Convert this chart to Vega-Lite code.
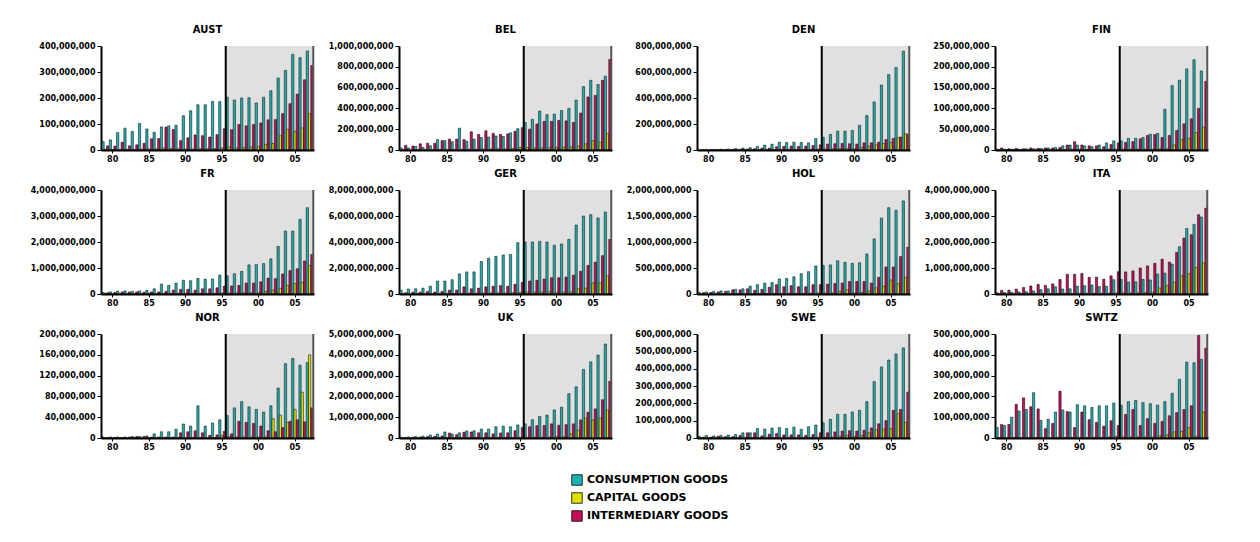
{
"$schema": "https://vega.github.io/schema/vega-lite/v6.json",
"background": "white",
"padding": {"left": 30, "top": 25, "right": 5, "bottom": 5},
"columns": 4,
"spacing": {"row": 6, "column": 13},
"datasets": {"d": [
{"n":"AUST","yr":1979,"c":32e6,"k":2e6,"i":16e6},{"n":"AUST","yr":1980,"c":39e6,"k":2e6,"i":15e6},{"n":"AUST","yr":1981,"c":67e6,"k":2e6,"i":30e6},{"n":"AUST","yr":1982,"c":84e6,"k":3e6,"i":16e6},{"n":"AUST","yr":1983,"c":71e6,"k":2e6,"i":20e6},{"n":"AUST","yr":1984,"c":102e6,"k":3e6,"i":26e6},{"n":"AUST","yr":1985,"c":81e6,"k":4e6,"i":43e6},{"n":"AUST","yr":1986,"c":68e6,"k":5e6,"i":44e6},{"n":"AUST","yr":1987,"c":89e6,"k":8e6,"i":88e6},{"n":"AUST","yr":1988,"c":93e6,"k":6e6,"i":79e6},{"n":"AUST","yr":1989,"c":95e6,"k":5e6,"i":36e6},{"n":"AUST","yr":1990,"c":132e6,"k":4e6,"i":47e6},{"n":"AUST","yr":1991,"c":151e6,"k":4e6,"i":58e6},{"n":"AUST","yr":1992,"c":174e6,"k":5e6,"i":55e6},{"n":"AUST","yr":1993,"c":174e6,"k":5e6,"i":50e6},{"n":"AUST","yr":1994,"c":187e6,"k":6e6,"i":59e6},{"n":"AUST","yr":1995,"c":186e6,"k":8e6,"i":82e6},{"n":"AUST","yr":1996,"c":203e6,"k":12e6,"i":78e6},{"n":"AUST","yr":1997,"c":192e6,"k":8e6,"i":98e6},{"n":"AUST","yr":1998,"c":200e6,"k":9e6,"i":93e6},{"n":"AUST","yr":1999,"c":201e6,"k":12e6,"i":98e6},{"n":"AUST","yr":2000,"c":181e6,"k":14e6,"i":104e6},{"n":"AUST","yr":2001,"c":203e6,"k":22e6,"i":116e6},{"n":"AUST","yr":2002,"c":228e6,"k":25e6,"i":117e6},{"n":"AUST","yr":2003,"c":277e6,"k":55e6,"i":140e6},{"n":"AUST","yr":2004,"c":306e6,"k":80e6,"i":178e6},{"n":"AUST","yr":2005,"c":368e6,"k":72e6,"i":215e6},{"n":"AUST","yr":2006,"c":355e6,"k":85e6,"i":270e6},{"n":"AUST","yr":2007,"c":381e6,"k":140e6,"i":325e6},
{"n":"BEL","yr":1979,"c":20e6,"k":2e6,"i":45e6},{"n":"BEL","yr":1980,"c":20e6,"k":2e6,"i":38e6},{"n":"BEL","yr":1981,"c":35e6,"k":3e6,"i":60e6},{"n":"BEL","yr":1982,"c":25e6,"k":3e6,"i":65e6},{"n":"BEL","yr":1983,"c":40e6,"k":4e6,"i":65e6},{"n":"BEL","yr":1984,"c":100e6,"k":5e6,"i":90e6},{"n":"BEL","yr":1985,"c":90e6,"k":5e6,"i":105e6},{"n":"BEL","yr":1986,"c":80e6,"k":6e6,"i":105e6},{"n":"BEL","yr":1987,"c":210e6,"k":6e6,"i":100e6},{"n":"BEL","yr":1988,"c":85e6,"k":8e6,"i":175e6},{"n":"BEL","yr":1989,"c":105e6,"k":8e6,"i":150e6},{"n":"BEL","yr":1990,"c":120e6,"k":10e6,"i":185e6},{"n":"BEL","yr":1991,"c":125e6,"k":10e6,"i":160e6},{"n":"BEL","yr":1992,"c":135e6,"k":12e6,"i":150e6},{"n":"BEL","yr":1993,"c":130e6,"k":12e6,"i":155e6},{"n":"BEL","yr":1994,"c":165e6,"k":15e6,"i":180e6},{"n":"BEL","yr":1995,"c":205e6,"k":25e6,"i":215e6},{"n":"BEL","yr":1996,"c":265e6,"k":25e6,"i":200e6},{"n":"BEL","yr":1997,"c":295e6,"k":20e6,"i":250e6},{"n":"BEL","yr":1998,"c":375e6,"k":20e6,"i":275e6},{"n":"BEL","yr":1999,"c":340e6,"k":22e6,"i":275e6},{"n":"BEL","yr":2000,"c":345e6,"k":25e6,"i":285e6},{"n":"BEL","yr":2001,"c":380e6,"k":28e6,"i":280e6},{"n":"BEL","yr":2002,"c":400e6,"k":30e6,"i":265e6},{"n":"BEL","yr":2003,"c":480e6,"k":40e6,"i":355e6},{"n":"BEL","yr":2004,"c":610e6,"k":60e6,"i":510e6},{"n":"BEL","yr":2005,"c":670e6,"k":90e6,"i":525e6},{"n":"BEL","yr":2006,"c":630e6,"k":75e6,"i":670e6},{"n":"BEL","yr":2007,"c":710e6,"k":160e6,"i":870e6},
{"n":"DEN","yr":1979,"c":3e6,"k":1e6,"i":2e6},{"n":"DEN","yr":1980,"c":4e6,"k":1e6,"i":3e6},{"n":"DEN","yr":1981,"c":5e6,"k":1e6,"i":3e6},{"n":"DEN","yr":1982,"c":6e6,"k":1e6,"i":4e6},{"n":"DEN","yr":1983,"c":8e6,"k":1e6,"i":5e6},{"n":"DEN","yr":1984,"c":12e6,"k":2e6,"i":6e6},{"n":"DEN","yr":1985,"c":15e6,"k":2e6,"i":8e6},{"n":"DEN","yr":1986,"c":18e6,"k":2e6,"i":10e6},{"n":"DEN","yr":1987,"c":28e6,"k":3e6,"i":15e6},{"n":"DEN","yr":1988,"c":38e6,"k":3e6,"i":15e6},{"n":"DEN","yr":1989,"c":45e6,"k":4e6,"i":25e6},{"n":"DEN","yr":1990,"c":60e6,"k":5e6,"i":28e6},{"n":"DEN","yr":1991,"c":58e6,"k":5e6,"i":30e6},{"n":"DEN","yr":1992,"c":60e6,"k":5e6,"i":28e6},{"n":"DEN","yr":1993,"c":58e6,"k":5e6,"i":30e6},{"n":"DEN","yr":1994,"c":55e6,"k":6e6,"i":35e6},{"n":"DEN","yr":1995,"c":88e6,"k":8e6,"i":40e6},{"n":"DEN","yr":1996,"c":98e6,"k":8e6,"i":45e6},{"n":"DEN","yr":1997,"c":120e6,"k":10e6,"i":48e6},{"n":"DEN","yr":1998,"c":145e6,"k":10e6,"i":50e6},{"n":"DEN","yr":1999,"c":145e6,"k":10e6,"i":48e6},{"n":"DEN","yr":2000,"c":150e6,"k":10e6,"i":45e6},{"n":"DEN","yr":2001,"c":190e6,"k":20e6,"i":55e6},{"n":"DEN","yr":2002,"c":265e6,"k":30e6,"i":55e6},{"n":"DEN","yr":2003,"c":370e6,"k":40e6,"i":60e6},{"n":"DEN","yr":2004,"c":500e6,"k":50e6,"i":80e6},{"n":"DEN","yr":2005,"c":580e6,"k":60e6,"i":90e6},{"n":"DEN","yr":2006,"c":635e6,"k":95e6,"i":100e6},{"n":"DEN","yr":2007,"c":760e6,"k":125e6,"i":120e6},
{"n":"FIN","yr":1979,"c":2e6,"k":1e6,"i":5e6},{"n":"FIN","yr":1980,"c":2e6,"k":1e6,"i":3e6},{"n":"FIN","yr":1981,"c":2e6,"k":1e6,"i":4e6},{"n":"FIN","yr":1982,"c":2e6,"k":1e6,"i":3e6},{"n":"FIN","yr":1983,"c":3e6,"k":1e6,"i":5e6},{"n":"FIN","yr":1984,"c":3e6,"k":1e6,"i":4e6},{"n":"FIN","yr":1985,"c":4e6,"k":1e6,"i":5e6},{"n":"FIN","yr":1986,"c":5e6,"k":1e6,"i":5e6},{"n":"FIN","yr":1987,"c":6e6,"k":1e6,"i":6e6},{"n":"FIN","yr":1988,"c":10e6,"k":1e6,"i":12e6},{"n":"FIN","yr":1989,"c":12e6,"k":2e6,"i":20e6},{"n":"FIN","yr":1990,"c":12e6,"k":2e6,"i":12e6},{"n":"FIN","yr":1991,"c":10e6,"k":1e6,"i":10e6},{"n":"FIN","yr":1992,"c":8e6,"k":1e6,"i":10e6},{"n":"FIN","yr":1993,"c":12e6,"k":1e6,"i":8e6},{"n":"FIN","yr":1994,"c":17e6,"k":2e6,"i":13e6},{"n":"FIN","yr":1995,"c":22e6,"k":2e6,"i":17e6},{"n":"FIN","yr":1996,"c":22e6,"k":2e6,"i":18e6},{"n":"FIN","yr":1997,"c":28e6,"k":2e6,"i":20e6},{"n":"FIN","yr":1998,"c":28e6,"k":2e6,"i":27e6},{"n":"FIN","yr":1999,"c":30e6,"k":2e6,"i":35e6},{"n":"FIN","yr":2000,"c":38e6,"k":2e6,"i":37e6},{"n":"FIN","yr":2001,"c":40e6,"k":3e6,"i":30e6},{"n":"FIN","yr":2002,"c":98e6,"k":3e6,"i":35e6},{"n":"FIN","yr":2003,"c":155e6,"k":12e6,"i":47e6},{"n":"FIN","yr":2004,"c":168e6,"k":25e6,"i":63e6},{"n":"FIN","yr":2005,"c":195e6,"k":28e6,"i":75e6},{"n":"FIN","yr":2006,"c":217e6,"k":42e6,"i":100e6},{"n":"FIN","yr":2007,"c":190e6,"k":55e6,"i":165e6},
{"n":"FR","yr":1979,"c":60e6,"k":10e6,"i":50e6},{"n":"FR","yr":1980,"c":80e6,"k":10e6,"i":60e6},{"n":"FR","yr":1981,"c":110e6,"k":15e6,"i":80e6},{"n":"FR","yr":1982,"c":120e6,"k":15e6,"i":80e6},{"n":"FR","yr":1983,"c":100e6,"k":15e6,"i":80e6},{"n":"FR","yr":1984,"c":120e6,"k":20e6,"i":70e6},{"n":"FR","yr":1985,"c":140e6,"k":20e6,"i":80e6},{"n":"FR","yr":1986,"c":200e6,"k":20e6,"i":80e6},{"n":"FR","yr":1987,"c":380e6,"k":25e6,"i":100e6},{"n":"FR","yr":1988,"c":330e6,"k":25e6,"i":150e6},{"n":"FR","yr":1989,"c":420e6,"k":30e6,"i":180e6},{"n":"FR","yr":1990,"c":530e6,"k":30e6,"i":180e6},{"n":"FR","yr":1991,"c":510e6,"k":30e6,"i":150e6},{"n":"FR","yr":1992,"c":600e6,"k":30e6,"i":200e6},{"n":"FR","yr":1993,"c":570e6,"k":30e6,"i":200e6},{"n":"FR","yr":1994,"c":580e6,"k":30e6,"i":240e6},{"n":"FR","yr":1995,"c":730e6,"k":40e6,"i":300e6},{"n":"FR","yr":1996,"c":700e6,"k":40e6,"i":310e6},{"n":"FR","yr":1997,"c":780e6,"k":40e6,"i":330e6},{"n":"FR","yr":1998,"c":870e6,"k":50e6,"i":420e6},{"n":"FR","yr":1999,"c":1120e6,"k":50e6,"i":420e6},{"n":"FR","yr":2000,"c":1130e6,"k":50e6,"i":470e6},{"n":"FR","yr":2001,"c":1170e6,"k":100e6,"i":610e6},{"n":"FR","yr":2002,"c":1350e6,"k":150e6,"i":590e6},{"n":"FR","yr":2003,"c":1830e6,"k":220e6,"i":770e6},{"n":"FR","yr":2004,"c":2420e6,"k":330e6,"i":900e6},{"n":"FR","yr":2005,"c":2420e6,"k":400e6,"i":970e6},{"n":"FR","yr":2006,"c":2870e6,"k":450e6,"i":1270e6},{"n":"FR","yr":2007,"c":3320e6,"k":1100e6,"i":1520e6},
{"n":"GER","yr":1979,"c":300e6,"k":30e6,"i":100e6},{"n":"GER","yr":1980,"c":380e6,"k":30e6,"i":150e6},{"n":"GER","yr":1981,"c":400e6,"k":30e6,"i":150e6},{"n":"GER","yr":1982,"c":450e6,"k":40e6,"i":200e6},{"n":"GER","yr":1983,"c":600e6,"k":40e6,"i":150e6},{"n":"GER","yr":1984,"c":1000e6,"k":50e6,"i":200e6},{"n":"GER","yr":1985,"c":1000e6,"k":50e6,"i":300e6},{"n":"GER","yr":1986,"c":1100e6,"k":50e6,"i":300e6},{"n":"GER","yr":1987,"c":1550e6,"k":60e6,"i":550e6},{"n":"GER","yr":1988,"c":1700e6,"k":60e6,"i":400e6},{"n":"GER","yr":1989,"c":1700e6,"k":60e6,"i":450e6},{"n":"GER","yr":1990,"c":2500e6,"k":80e6,"i":550e6},{"n":"GER","yr":1991,"c":2750e6,"k":80e6,"i":600e6},{"n":"GER","yr":1992,"c":2900e6,"k":80e6,"i":650e6},{"n":"GER","yr":1993,"c":3000e6,"k":90e6,"i":600e6},{"n":"GER","yr":1994,"c":3050e6,"k":100e6,"i":750e6},{"n":"GER","yr":1995,"c":3950e6,"k":120e6,"i":900e6},{"n":"GER","yr":1996,"c":4000e6,"k":150e6,"i":1000e6},{"n":"GER","yr":1997,"c":4000e6,"k":150e6,"i":1050e6},{"n":"GER","yr":1998,"c":4050e6,"k":150e6,"i":1150e6},{"n":"GER","yr":1999,"c":4000e6,"k":200e6,"i":1250e6},{"n":"GER","yr":2000,"c":3750e6,"k":100e6,"i":1250e6},{"n":"GER","yr":2001,"c":3850e6,"k":150e6,"i":1300e6},{"n":"GER","yr":2002,"c":4200e6,"k":150e6,"i":1450e6},{"n":"GER","yr":2003,"c":5300e6,"k":400e6,"i":1750e6},{"n":"GER","yr":2004,"c":6000e6,"k":450e6,"i":2200e6},{"n":"GER","yr":2005,"c":6100e6,"k":850e6,"i":2450e6},{"n":"GER","yr":2006,"c":5850e6,"k":850e6,"i":2950e6},{"n":"GER","yr":2007,"c":6300e6,"k":1400e6,"i":4200e6},
{"n":"HOL","yr":1979,"c":35e6,"k":3e6,"i":25e6},{"n":"HOL","yr":1980,"c":40e6,"k":3e6,"i":30e6},{"n":"HOL","yr":1981,"c":50e6,"k":4e6,"i":40e6},{"n":"HOL","yr":1982,"c":60e6,"k":4e6,"i":50e6},{"n":"HOL","yr":1983,"c":60e6,"k":5e6,"i":80e6},{"n":"HOL","yr":1984,"c":90e6,"k":5e6,"i":80e6},{"n":"HOL","yr":1985,"c":100e6,"k":6e6,"i":100e6},{"n":"HOL","yr":1986,"c":150e6,"k":8e6,"i":70e6},{"n":"HOL","yr":1987,"c":180e6,"k":10e6,"i":90e6},{"n":"HOL","yr":1988,"c":210e6,"k":10e6,"i":130e6},{"n":"HOL","yr":1989,"c":220e6,"k":10e6,"i":180e6},{"n":"HOL","yr":1990,"c":290e6,"k":12e6,"i":140e6},{"n":"HOL","yr":1991,"c":300e6,"k":12e6,"i":160e6},{"n":"HOL","yr":1992,"c":330e6,"k":15e6,"i":140e6},{"n":"HOL","yr":1993,"c":390e6,"k":15e6,"i":140e6},{"n":"HOL","yr":1994,"c":430e6,"k":15e6,"i":180e6},{"n":"HOL","yr":1995,"c":540e6,"k":20e6,"i":180e6},{"n":"HOL","yr":1996,"c":550e6,"k":20e6,"i":190e6},{"n":"HOL","yr":1997,"c":560e6,"k":20e6,"i":200e6},{"n":"HOL","yr":1998,"c":640e6,"k":50e6,"i":210e6},{"n":"HOL","yr":1999,"c":610e6,"k":80e6,"i":240e6},{"n":"HOL","yr":2000,"c":590e6,"k":20e6,"i":240e6},{"n":"HOL","yr":2001,"c":600e6,"k":30e6,"i":240e6},{"n":"HOL","yr":2002,"c":770e6,"k":60e6,"i":210e6},{"n":"HOL","yr":2003,"c":1060e6,"k":120e6,"i":320e6},{"n":"HOL","yr":2004,"c":1460e6,"k":150e6,"i":520e6},{"n":"HOL","yr":2005,"c":1660e6,"k":270e6,"i":520e6},{"n":"HOL","yr":2006,"c":1610e6,"k":200e6,"i":720e6},{"n":"HOL","yr":2007,"c":1790e6,"k":320e6,"i":900e6},
{"n":"ITA","yr":1979,"c":50e6,"k":10e6,"i":140e6},{"n":"ITA","yr":1980,"c":60e6,"k":10e6,"i":150e6},{"n":"ITA","yr":1981,"c":70e6,"k":10e6,"i":190e6},{"n":"ITA","yr":1982,"c":80e6,"k":15e6,"i":250e6},{"n":"ITA","yr":1983,"c":90e6,"k":15e6,"i":310e6},{"n":"ITA","yr":1984,"c":120e6,"k":15e6,"i":370e6},{"n":"ITA","yr":1985,"c":170e6,"k":20e6,"i":330e6},{"n":"ITA","yr":1986,"c":200e6,"k":20e6,"i":390e6},{"n":"ITA","yr":1987,"c":280e6,"k":25e6,"i":560e6},{"n":"ITA","yr":1988,"c":190e6,"k":25e6,"i":760e6},{"n":"ITA","yr":1989,"c":200e6,"k":25e6,"i":760e6},{"n":"ITA","yr":1990,"c":300e6,"k":30e6,"i":790e6},{"n":"ITA","yr":1991,"c":320e6,"k":30e6,"i":640e6},{"n":"ITA","yr":1992,"c":350e6,"k":30e6,"i":650e6},{"n":"ITA","yr":1993,"c":290e6,"k":30e6,"i":570e6},{"n":"ITA","yr":1994,"c":300e6,"k":30e6,"i":700e6},{"n":"ITA","yr":1995,"c":550e6,"k":40e6,"i":860e6},{"n":"ITA","yr":1996,"c":560e6,"k":40e6,"i":850e6},{"n":"ITA","yr":1997,"c":460e6,"k":40e6,"i":890e6},{"n":"ITA","yr":1998,"c":470e6,"k":40e6,"i":1000e6},{"n":"ITA","yr":1999,"c":560e6,"k":60e6,"i":1080e6},{"n":"ITA","yr":2000,"c":540e6,"k":80e6,"i":1180e6},{"n":"ITA","yr":2001,"c":770e6,"k":230e6,"i":1340e6},{"n":"ITA","yr":2002,"c":800e6,"k":330e6,"i":1230e6},{"n":"ITA","yr":2003,"c":1150e6,"k":450e6,"i":1600e6},{"n":"ITA","yr":2004,"c":1820e6,"k":700e6,"i":2150e6},{"n":"ITA","yr":2005,"c":2520e6,"k":780e6,"i":2280e6},{"n":"ITA","yr":2006,"c":2680e6,"k":1020e6,"i":3050e6},{"n":"ITA","yr":2007,"c":2960e6,"k":1200e6,"i":3300e6},
{"n":"NOR","yr":1979,"c":2e6,"k":0.5e6,"i":1e6},{"n":"NOR","yr":1980,"c":2e6,"k":0.5e6,"i":1e6},{"n":"NOR","yr":1981,"c":2e6,"k":0.5e6,"i":1e6},{"n":"NOR","yr":1982,"c":2e6,"k":0.5e6,"i":2e6},{"n":"NOR","yr":1983,"c":3e6,"k":0.5e6,"i":3e6},{"n":"NOR","yr":1984,"c":3e6,"k":0.5e6,"i":3e6},{"n":"NOR","yr":1985,"c":4e6,"k":0.5e6,"i":2e6},{"n":"NOR","yr":1986,"c":8e6,"k":0.5e6,"i":2e6},{"n":"NOR","yr":1987,"c":12e6,"k":0.5e6,"i":2e6},{"n":"NOR","yr":1988,"c":12e6,"k":0.5e6,"i":2e6},{"n":"NOR","yr":1989,"c":17e6,"k":1e6,"i":10e6},{"n":"NOR","yr":1990,"c":27e6,"k":1e6,"i":12e6},{"n":"NOR","yr":1991,"c":23e6,"k":1e6,"i":14e6},{"n":"NOR","yr":1992,"c":62e6,"k":1e6,"i":10e6},{"n":"NOR","yr":1993,"c":23e6,"k":1e6,"i":5e6},{"n":"NOR","yr":1994,"c":29e6,"k":1e6,"i":6e6},{"n":"NOR","yr":1995,"c":35e6,"k":5e6,"i":13e6},{"n":"NOR","yr":1996,"c":43e6,"k":3e6,"i":8e6},{"n":"NOR","yr":1997,"c":58e6,"k":2e6,"i":32e6},{"n":"NOR","yr":1998,"c":70e6,"k":2e6,"i":30e6},{"n":"NOR","yr":1999,"c":60e6,"k":2e6,"i":28e6},{"n":"NOR","yr":2000,"c":55e6,"k":2e6,"i":23e6},{"n":"NOR","yr":2001,"c":50e6,"k":2e6,"i":14e6},{"n":"NOR","yr":2002,"c":62e6,"k":37e6,"i":12e6},{"n":"NOR","yr":2003,"c":96e6,"k":44e6,"i":20e6},{"n":"NOR","yr":2004,"c":143e6,"k":30e6,"i":32e6},{"n":"NOR","yr":2005,"c":153e6,"k":55e6,"i":35e6},{"n":"NOR","yr":2006,"c":140e6,"k":88e6,"i":31e6},{"n":"NOR","yr":2007,"c":145e6,"k":160e6,"i":58e6},
{"n":"UK","yr":1979,"c":40e6,"k":5e6,"i":30e6},{"n":"UK","yr":1980,"c":50e6,"k":5e6,"i":40e6},{"n":"UK","yr":1981,"c":70e6,"k":5e6,"i":50e6},{"n":"UK","yr":1982,"c":90e6,"k":10e6,"i":70e6},{"n":"UK","yr":1983,"c":140e6,"k":10e6,"i":80e6},{"n":"UK","yr":1984,"c":190e6,"k":10e6,"i":100e6},{"n":"UK","yr":1985,"c":290e6,"k":15e6,"i":240e6},{"n":"UK","yr":1986,"c":190e6,"k":15e6,"i":160e6},{"n":"UK","yr":1987,"c":250e6,"k":15e6,"i":280e6},{"n":"UK","yr":1988,"c":340e6,"k":20e6,"i":290e6},{"n":"UK","yr":1989,"c":350e6,"k":20e6,"i":250e6},{"n":"UK","yr":1990,"c":430e6,"k":20e6,"i":250e6},{"n":"UK","yr":1991,"c":430e6,"k":20e6,"i":200e6},{"n":"UK","yr":1992,"c":540e6,"k":25e6,"i":240e6},{"n":"UK","yr":1993,"c":570e6,"k":25e6,"i":250e6},{"n":"UK","yr":1994,"c":540e6,"k":25e6,"i":350e6},{"n":"UK","yr":1995,"c":630e6,"k":30e6,"i":510e6},{"n":"UK","yr":1996,"c":680e6,"k":30e6,"i":540e6},{"n":"UK","yr":1997,"c":880e6,"k":30e6,"i":590e6},{"n":"UK","yr":1998,"c":1040e6,"k":40e6,"i":600e6},{"n":"UK","yr":1999,"c":1100e6,"k":40e6,"i":680e6},{"n":"UK","yr":2000,"c":1350e6,"k":80e6,"i":610e6},{"n":"UK","yr":2001,"c":1480e6,"k":60e6,"i":640e6},{"n":"UK","yr":2002,"c":2130e6,"k":200e6,"i":680e6},{"n":"UK","yr":2003,"c":2460e6,"k":380e6,"i":870e6},{"n":"UK","yr":2004,"c":3290e6,"k":960e6,"i":1240e6},{"n":"UK","yr":2005,"c":3660e6,"k":870e6,"i":1400e6},{"n":"UK","yr":2006,"c":3990e6,"k":960e6,"i":1840e6},{"n":"UK","yr":2007,"c":4520e6,"k":1350e6,"i":2730e6},
{"n":"SWE","yr":1979,"c":10e6,"k":1e6,"i":5e6},{"n":"SWE","yr":1980,"c":15e6,"k":1e6,"i":5e6},{"n":"SWE","yr":1981,"c":12e6,"k":1e6,"i":10e6},{"n":"SWE","yr":1982,"c":15e6,"k":1e6,"i":8e6},{"n":"SWE","yr":1983,"c":17e6,"k":1e6,"i":8e6},{"n":"SWE","yr":1984,"c":20e6,"k":1e6,"i":15e6},{"n":"SWE","yr":1985,"c":30e6,"k":2e6,"i":30e6},{"n":"SWE","yr":1986,"c":30e6,"k":2e6,"i":30e6},{"n":"SWE","yr":1987,"c":55e6,"k":2e6,"i":12e6},{"n":"SWE","yr":1988,"c":52e6,"k":2e6,"i":22e6},{"n":"SWE","yr":1989,"c":57e6,"k":2e6,"i":25e6},{"n":"SWE","yr":1990,"c":60e6,"k":3e6,"i":18e6},{"n":"SWE","yr":1991,"c":55e6,"k":3e6,"i":18e6},{"n":"SWE","yr":1992,"c":63e6,"k":3e6,"i":18e6},{"n":"SWE","yr":1993,"c":50e6,"k":3e6,"i":15e6},{"n":"SWE","yr":1994,"c":65e6,"k":3e6,"i":20e6},{"n":"SWE","yr":1995,"c":75e6,"k":5e6,"i":30e6},{"n":"SWE","yr":1996,"c":88e6,"k":5e6,"i":30e6},{"n":"SWE","yr":1997,"c":108e6,"k":5e6,"i":35e6},{"n":"SWE","yr":1998,"c":137e6,"k":10e6,"i":40e6},{"n":"SWE","yr":1999,"c":137e6,"k":15e6,"i":42e6},{"n":"SWE","yr":2000,"c":150e6,"k":10e6,"i":40e6},{"n":"SWE","yr":2001,"c":160e6,"k":15e6,"i":45e6},{"n":"SWE","yr":2002,"c":210e6,"k":30e6,"i":58e6},{"n":"SWE","yr":2003,"c":325e6,"k":48e6,"i":82e6},{"n":"SWE","yr":2004,"c":410e6,"k":52e6,"i":100e6},{"n":"SWE","yr":2005,"c":450e6,"k":55e6,"i":160e6},{"n":"SWE","yr":2006,"c":485e6,"k":140e6,"i":165e6},{"n":"SWE","yr":2007,"c":520e6,"k":90e6,"i":265e6},
{"n":"SWTZ","yr":1979,"c":50e6,"k":2e6,"i":65e6},{"n":"SWTZ","yr":1980,"c":60e6,"k":2e6,"i":65e6},{"n":"SWTZ","yr":1981,"c":100e6,"k":2e6,"i":162e6},{"n":"SWTZ","yr":1982,"c":130e6,"k":2e6,"i":193e6},{"n":"SWTZ","yr":1983,"c":137e6,"k":2e6,"i":150e6},{"n":"SWTZ","yr":1984,"c":218e6,"k":2e6,"i":140e6},{"n":"SWTZ","yr":1985,"c":85e6,"k":2e6,"i":45e6},{"n":"SWTZ","yr":1986,"c":90e6,"k":2e6,"i":70e6},{"n":"SWTZ","yr":1987,"c":125e6,"k":3e6,"i":225e6},{"n":"SWTZ","yr":1988,"c":135e6,"k":3e6,"i":127e6},{"n":"SWTZ","yr":1989,"c":125e6,"k":3e6,"i":50e6},{"n":"SWTZ","yr":1990,"c":160e6,"k":3e6,"i":125e6},{"n":"SWTZ","yr":1991,"c":155e6,"k":3e6,"i":88e6},{"n":"SWTZ","yr":1992,"c":147e6,"k":3e6,"i":75e6},{"n":"SWTZ","yr":1993,"c":155e6,"k":3e6,"i":57e6},{"n":"SWTZ","yr":1994,"c":155e6,"k":5e6,"i":83e6},{"n":"SWTZ","yr":1995,"c":168e6,"k":8e6,"i":60e6},{"n":"SWTZ","yr":1996,"c":157e6,"k":5e6,"i":113e6},{"n":"SWTZ","yr":1997,"c":175e6,"k":5e6,"i":137e6},{"n":"SWTZ","yr":1998,"c":180e6,"k":5e6,"i":60e6},{"n":"SWTZ","yr":1999,"c":170e6,"k":5e6,"i":93e6},{"n":"SWTZ","yr":2000,"c":165e6,"k":5e6,"i":70e6},{"n":"SWTZ","yr":2001,"c":158e6,"k":10e6,"i":80e6},{"n":"SWTZ","yr":2002,"c":175e6,"k":15e6,"i":107e6},{"n":"SWTZ","yr":2003,"c":215e6,"k":30e6,"i":122e6},{"n":"SWTZ","yr":2004,"c":282e6,"k":32e6,"i":137e6},{"n":"SWTZ","yr":2005,"c":365e6,"k":50e6,"i":155e6},{"n":"SWTZ","yr":2006,"c":362e6,"k":8e6,"i":493e6},{"n":"SWTZ","yr":2007,"c":378e6,"k":125e6,"i":432e6}
]},
"concat": [
{"title":"AUST","width":213,"height":104,"data":{"name":"d"},"transform":[{"filter":"datum.n==='AUST'"},{"fold":["c","k","i"],"as":["s","v"]}],
 "encoding":{"x":{"field":"yr","type":"ordinal","scale":{"paddingInner":0,"paddingOuter":0.1},"axis":{"values":[1980,1985,1990,1995,2000,2005],"labelExpr":"substring(datum.label,2)","title":null,"labelAngle":0}}},
 "layer":[
  {"transform":[{"filter":"datum.yr>=1996"}],"mark":{"type":"rect","color":"#E0E0E0"},"encoding":{}},
  {"mark":{"type":"bar","stroke":"#000","strokeWidth":0.5},"encoding":{"xOffset":{"field":"s","sort":["c","k","i"],"scale":{"paddingInner":0,"paddingOuter":0.1}},"y":{"field":"v","type":"quantitative","scale":{"domain":[0,4e8]},"axis":{"values":[0,1e8,2e8,3e8,4e8],"format":",d","title":null}},"color":{"field":"s","scale":{"domain":["c","k","i"],"range":["#22AFAF","#E0E000","#C0105A"]},"legend":{"orient":"none","legendX":470,"legendY":428,"title":null,"direction":"vertical","symbolType":"square","symbolSize":110,"symbolStrokeColor":"#000","symbolStrokeWidth":0.8,"labelFont":"DejaVu Sans","labelFontWeight":"bold","labelFontSize":11,"labelColor":"#000","rowPadding":4,"labelExpr":"datum.label=='c'?'CONSUMPTION GOODS':datum.label=='k'?'CAPITAL GOODS':'INTERMEDIARY GOODS'"}}}},
  {"transform":[{"filter":"datum.yr==1996 && datum.s=='c'"}],"mark":{"type":"rule","color":"#000","strokeWidth":2},"encoding":{"x":{"field":"yr","type":"ordinal","bandPosition":0}}},
  {"transform":[{"filter":"datum.yr==2007 && datum.s=='c'"}],"mark":{"type":"rule","color":"#555","strokeWidth":2},"encoding":{"x":{"field":"yr","type":"ordinal","bandPosition":1}}}
 ]},
{"title":"BEL","width":213,"height":104,"data":{"name":"d"},"transform":[{"filter":"datum.n==='BEL'"},{"fold":["c","k","i"],"as":["s","v"]}],
 "encoding":{"x":{"field":"yr","type":"ordinal","scale":{"paddingInner":0,"paddingOuter":0.1},"axis":{"values":[1980,1985,1990,1995,2000,2005],"labelExpr":"substring(datum.label,2)","title":null,"labelAngle":0}}},
 "layer":[
  {"transform":[{"filter":"datum.yr>=1996"}],"mark":{"type":"rect","color":"#E0E0E0"},"encoding":{}},
  {"mark":{"type":"bar","stroke":"#000","strokeWidth":0.5},"encoding":{"xOffset":{"field":"s","sort":["c","k","i"],"scale":{"paddingInner":0,"paddingOuter":0.1}},"y":{"field":"v","type":"quantitative","scale":{"domain":[0,1e9]},"axis":{"values":[0,2e8,4e8,6e8,8e8,1e9],"format":",d","title":null}},"color":{"field":"s","scale":{"domain":["c","k","i"],"range":["#22AFAF","#E0E000","#C0105A"]}}}},
  {"transform":[{"filter":"datum.yr==1996 && datum.s=='c'"}],"mark":{"type":"rule","color":"#000","strokeWidth":2},"encoding":{"x":{"field":"yr","type":"ordinal","bandPosition":0}}},
  {"transform":[{"filter":"datum.yr==2007 && datum.s=='c'"}],"mark":{"type":"rule","color":"#555","strokeWidth":2},"encoding":{"x":{"field":"yr","type":"ordinal","bandPosition":1}}}
 ]},
{"title":"DEN","width":213,"height":104,"data":{"name":"d"},"transform":[{"filter":"datum.n==='DEN'"},{"fold":["c","k","i"],"as":["s","v"]}],
 "encoding":{"x":{"field":"yr","type":"ordinal","scale":{"paddingInner":0,"paddingOuter":0.1},"axis":{"values":[1980,1985,1990,1995,2000,2005],"labelExpr":"substring(datum.label,2)","title":null,"labelAngle":0}}},
 "layer":[
  {"transform":[{"filter":"datum.yr>=1996"}],"mark":{"type":"rect","color":"#E0E0E0"},"encoding":{}},
  {"mark":{"type":"bar","stroke":"#000","strokeWidth":0.5},"encoding":{"xOffset":{"field":"s","sort":["c","k","i"],"scale":{"paddingInner":0,"paddingOuter":0.1}},"y":{"field":"v","type":"quantitative","scale":{"domain":[0,8e8]},"axis":{"values":[0,2e8,4e8,6e8,8e8],"format":",d","title":null}},"color":{"field":"s","scale":{"domain":["c","k","i"],"range":["#22AFAF","#E0E000","#C0105A"]}}}},
  {"transform":[{"filter":"datum.yr==1996 && datum.s=='c'"}],"mark":{"type":"rule","color":"#000","strokeWidth":2},"encoding":{"x":{"field":"yr","type":"ordinal","bandPosition":0}}},
  {"transform":[{"filter":"datum.yr==2007 && datum.s=='c'"}],"mark":{"type":"rule","color":"#555","strokeWidth":2},"encoding":{"x":{"field":"yr","type":"ordinal","bandPosition":1}}}
 ]},
{"title":"FIN","width":213,"height":104,"data":{"name":"d"},"transform":[{"filter":"datum.n==='FIN'"},{"fold":["c","k","i"],"as":["s","v"]}],
 "encoding":{"x":{"field":"yr","type":"ordinal","scale":{"paddingInner":0,"paddingOuter":0.1},"axis":{"values":[1980,1985,1990,1995,2000,2005],"labelExpr":"substring(datum.label,2)","title":null,"labelAngle":0}}},
 "layer":[
  {"transform":[{"filter":"datum.yr>=1996"}],"mark":{"type":"rect","color":"#E0E0E0"},"encoding":{}},
  {"mark":{"type":"bar","stroke":"#000","strokeWidth":0.5},"encoding":{"xOffset":{"field":"s","sort":["c","k","i"],"scale":{"paddingInner":0,"paddingOuter":0.1}},"y":{"field":"v","type":"quantitative","scale":{"domain":[0,2.5e8]},"axis":{"values":[0,5e7,1e8,1.5e8,2e8,2.5e8],"format":",d","title":null}},"color":{"field":"s","scale":{"domain":["c","k","i"],"range":["#22AFAF","#E0E000","#C0105A"]}}}},
  {"transform":[{"filter":"datum.yr==1996 && datum.s=='c'"}],"mark":{"type":"rule","color":"#000","strokeWidth":2},"encoding":{"x":{"field":"yr","type":"ordinal","bandPosition":0}}},
  {"transform":[{"filter":"datum.yr==2007 && datum.s=='c'"}],"mark":{"type":"rule","color":"#555","strokeWidth":2},"encoding":{"x":{"field":"yr","type":"ordinal","bandPosition":1}}}
 ]},
{"title":"FR","width":213,"height":104,"data":{"name":"d"},"transform":[{"filter":"datum.n==='FR'"},{"fold":["c","k","i"],"as":["s","v"]}],
 "encoding":{"x":{"field":"yr","type":"ordinal","scale":{"paddingInner":0,"paddingOuter":0.1},"axis":{"values":[1980,1985,1990,1995,2000,2005],"labelExpr":"substring(datum.label,2)","title":null,"labelAngle":0}}},
 "layer":[
  {"transform":[{"filter":"datum.yr>=1996"}],"mark":{"type":"rect","color":"#E0E0E0"},"encoding":{}},
  {"mark":{"type":"bar","stroke":"#000","strokeWidth":0.5},"encoding":{"xOffset":{"field":"s","sort":["c","k","i"],"scale":{"paddingInner":0,"paddingOuter":0.1}},"y":{"field":"v","type":"quantitative","scale":{"domain":[0,4e9]},"axis":{"values":[0,1e9,2e9,3e9,4e9],"format":",d","title":null}},"color":{"field":"s","scale":{"domain":["c","k","i"],"range":["#22AFAF","#E0E000","#C0105A"]}}}},
  {"transform":[{"filter":"datum.yr==1996 && datum.s=='c'"}],"mark":{"type":"rule","color":"#000","strokeWidth":2},"encoding":{"x":{"field":"yr","type":"ordinal","bandPosition":0}}},
  {"transform":[{"filter":"datum.yr==2007 && datum.s=='c'"}],"mark":{"type":"rule","color":"#555","strokeWidth":2},"encoding":{"x":{"field":"yr","type":"ordinal","bandPosition":1}}}
 ]},
{"title":"GER","width":213,"height":104,"data":{"name":"d"},"transform":[{"filter":"datum.n==='GER'"},{"fold":["c","k","i"],"as":["s","v"]}],
 "encoding":{"x":{"field":"yr","type":"ordinal","scale":{"paddingInner":0,"paddingOuter":0.1},"axis":{"values":[1980,1985,1990,1995,2000,2005],"labelExpr":"substring(datum.label,2)","title":null,"labelAngle":0}}},
 "layer":[
  {"transform":[{"filter":"datum.yr>=1996"}],"mark":{"type":"rect","color":"#E0E0E0"},"encoding":{}},
  {"mark":{"type":"bar","stroke":"#000","strokeWidth":0.5},"encoding":{"xOffset":{"field":"s","sort":["c","k","i"],"scale":{"paddingInner":0,"paddingOuter":0.1}},"y":{"field":"v","type":"quantitative","scale":{"domain":[0,8e9]},"axis":{"values":[0,2e9,4e9,6e9,8e9],"format":",d","title":null}},"color":{"field":"s","scale":{"domain":["c","k","i"],"range":["#22AFAF","#E0E000","#C0105A"]}}}},
  {"transform":[{"filter":"datum.yr==1996 && datum.s=='c'"}],"mark":{"type":"rule","color":"#000","strokeWidth":2},"encoding":{"x":{"field":"yr","type":"ordinal","bandPosition":0}}},
  {"transform":[{"filter":"datum.yr==2007 && datum.s=='c'"}],"mark":{"type":"rule","color":"#555","strokeWidth":2},"encoding":{"x":{"field":"yr","type":"ordinal","bandPosition":1}}}
 ]},
{"title":"HOL","width":213,"height":104,"data":{"name":"d"},"transform":[{"filter":"datum.n==='HOL'"},{"fold":["c","k","i"],"as":["s","v"]}],
 "encoding":{"x":{"field":"yr","type":"ordinal","scale":{"paddingInner":0,"paddingOuter":0.1},"axis":{"values":[1980,1985,1990,1995,2000,2005],"labelExpr":"substring(datum.label,2)","title":null,"labelAngle":0}}},
 "layer":[
  {"transform":[{"filter":"datum.yr>=1996"}],"mark":{"type":"rect","color":"#E0E0E0"},"encoding":{}},
  {"mark":{"type":"bar","stroke":"#000","strokeWidth":0.5},"encoding":{"xOffset":{"field":"s","sort":["c","k","i"],"scale":{"paddingInner":0,"paddingOuter":0.1}},"y":{"field":"v","type":"quantitative","scale":{"domain":[0,2e9]},"axis":{"values":[0,5e8,1e9,1.5e9,2e9],"format":",d","title":null}},"color":{"field":"s","scale":{"domain":["c","k","i"],"range":["#22AFAF","#E0E000","#C0105A"]}}}},
  {"transform":[{"filter":"datum.yr==1996 && datum.s=='c'"}],"mark":{"type":"rule","color":"#000","strokeWidth":2},"encoding":{"x":{"field":"yr","type":"ordinal","bandPosition":0}}},
  {"transform":[{"filter":"datum.yr==2007 && datum.s=='c'"}],"mark":{"type":"rule","color":"#555","strokeWidth":2},"encoding":{"x":{"field":"yr","type":"ordinal","bandPosition":1}}}
 ]},
{"title":"ITA","width":213,"height":104,"data":{"name":"d"},"transform":[{"filter":"datum.n==='ITA'"},{"fold":["c","k","i"],"as":["s","v"]}],
 "encoding":{"x":{"field":"yr","type":"ordinal","scale":{"paddingInner":0,"paddingOuter":0.1},"axis":{"values":[1980,1985,1990,1995,2000,2005],"labelExpr":"substring(datum.label,2)","title":null,"labelAngle":0}}},
 "layer":[
  {"transform":[{"filter":"datum.yr>=1996"}],"mark":{"type":"rect","color":"#E0E0E0"},"encoding":{}},
  {"mark":{"type":"bar","stroke":"#000","strokeWidth":0.5},"encoding":{"xOffset":{"field":"s","sort":["c","k","i"],"scale":{"paddingInner":0,"paddingOuter":0.1}},"y":{"field":"v","type":"quantitative","scale":{"domain":[0,4e9]},"axis":{"values":[0,1e9,2e9,3e9,4e9],"format":",d","title":null}},"color":{"field":"s","scale":{"domain":["c","k","i"],"range":["#22AFAF","#E0E000","#C0105A"]}}}},
  {"transform":[{"filter":"datum.yr==1996 && datum.s=='c'"}],"mark":{"type":"rule","color":"#000","strokeWidth":2},"encoding":{"x":{"field":"yr","type":"ordinal","bandPosition":0}}},
  {"transform":[{"filter":"datum.yr==2007 && datum.s=='c'"}],"mark":{"type":"rule","color":"#555","strokeWidth":2},"encoding":{"x":{"field":"yr","type":"ordinal","bandPosition":1}}}
 ]},
{"title":"NOR","width":213,"height":104,"data":{"name":"d"},"transform":[{"filter":"datum.n==='NOR'"},{"fold":["c","k","i"],"as":["s","v"]}],
 "encoding":{"x":{"field":"yr","type":"ordinal","scale":{"paddingInner":0,"paddingOuter":0.1},"axis":{"values":[1980,1985,1990,1995,2000,2005],"labelExpr":"substring(datum.label,2)","title":null,"labelAngle":0}}},
 "layer":[
  {"transform":[{"filter":"datum.yr>=1996"}],"mark":{"type":"rect","color":"#E0E0E0"},"encoding":{}},
  {"mark":{"type":"bar","stroke":"#000","strokeWidth":0.5},"encoding":{"xOffset":{"field":"s","sort":["c","k","i"],"scale":{"paddingInner":0,"paddingOuter":0.1}},"y":{"field":"v","type":"quantitative","scale":{"domain":[0,2e8]},"axis":{"values":[0,4e7,8e7,1.2e8,1.6e8,2e8],"format":",d","title":null}},"color":{"field":"s","scale":{"domain":["c","k","i"],"range":["#22AFAF","#E0E000","#C0105A"]}}}},
  {"transform":[{"filter":"datum.yr==1996 && datum.s=='c'"}],"mark":{"type":"rule","color":"#000","strokeWidth":2},"encoding":{"x":{"field":"yr","type":"ordinal","bandPosition":0}}},
  {"transform":[{"filter":"datum.yr==2007 && datum.s=='c'"}],"mark":{"type":"rule","color":"#555","strokeWidth":2},"encoding":{"x":{"field":"yr","type":"ordinal","bandPosition":1}}}
 ]},
{"title":"UK","width":213,"height":104,"data":{"name":"d"},"transform":[{"filter":"datum.n==='UK'"},{"fold":["c","k","i"],"as":["s","v"]}],
 "encoding":{"x":{"field":"yr","type":"ordinal","scale":{"paddingInner":0,"paddingOuter":0.1},"axis":{"values":[1980,1985,1990,1995,2000,2005],"labelExpr":"substring(datum.label,2)","title":null,"labelAngle":0}}},
 "layer":[
  {"transform":[{"filter":"datum.yr>=1996"}],"mark":{"type":"rect","color":"#E0E0E0"},"encoding":{}},
  {"mark":{"type":"bar","stroke":"#000","strokeWidth":0.5},"encoding":{"xOffset":{"field":"s","sort":["c","k","i"],"scale":{"paddingInner":0,"paddingOuter":0.1}},"y":{"field":"v","type":"quantitative","scale":{"domain":[0,5e9]},"axis":{"values":[0,1e9,2e9,3e9,4e9,5e9],"format":",d","title":null}},"color":{"field":"s","scale":{"domain":["c","k","i"],"range":["#22AFAF","#E0E000","#C0105A"]}}}},
  {"transform":[{"filter":"datum.yr==1996 && datum.s=='c'"}],"mark":{"type":"rule","color":"#000","strokeWidth":2},"encoding":{"x":{"field":"yr","type":"ordinal","bandPosition":0}}},
  {"transform":[{"filter":"datum.yr==2007 && datum.s=='c'"}],"mark":{"type":"rule","color":"#555","strokeWidth":2},"encoding":{"x":{"field":"yr","type":"ordinal","bandPosition":1}}}
 ]},
{"title":"SWE","width":213,"height":104,"data":{"name":"d"},"transform":[{"filter":"datum.n==='SWE'"},{"fold":["c","k","i"],"as":["s","v"]}],
 "encoding":{"x":{"field":"yr","type":"ordinal","scale":{"paddingInner":0,"paddingOuter":0.1},"axis":{"values":[1980,1985,1990,1995,2000,2005],"labelExpr":"substring(datum.label,2)","title":null,"labelAngle":0}}},
 "layer":[
  {"transform":[{"filter":"datum.yr>=1996"}],"mark":{"type":"rect","color":"#E0E0E0"},"encoding":{}},
  {"mark":{"type":"bar","stroke":"#000","strokeWidth":0.5},"encoding":{"xOffset":{"field":"s","sort":["c","k","i"],"scale":{"paddingInner":0,"paddingOuter":0.1}},"y":{"field":"v","type":"quantitative","scale":{"domain":[0,6e8]},"axis":{"values":[0,1e8,2e8,3e8,4e8,5e8,6e8],"format":",d","title":null}},"color":{"field":"s","scale":{"domain":["c","k","i"],"range":["#22AFAF","#E0E000","#C0105A"]}}}},
  {"transform":[{"filter":"datum.yr==1996 && datum.s=='c'"}],"mark":{"type":"rule","color":"#000","strokeWidth":2},"encoding":{"x":{"field":"yr","type":"ordinal","bandPosition":0}}},
  {"transform":[{"filter":"datum.yr==2007 && datum.s=='c'"}],"mark":{"type":"rule","color":"#555","strokeWidth":2},"encoding":{"x":{"field":"yr","type":"ordinal","bandPosition":1}}}
 ]},
{"title":"SWTZ","width":213,"height":104,"data":{"name":"d"},"transform":[{"filter":"datum.n==='SWTZ'"},{"fold":["c","k","i"],"as":["s","v"]}],
 "encoding":{"x":{"field":"yr","type":"ordinal","scale":{"paddingInner":0,"paddingOuter":0.1},"axis":{"values":[1980,1985,1990,1995,2000,2005],"labelExpr":"substring(datum.label,2)","title":null,"labelAngle":0}}},
 "layer":[
  {"transform":[{"filter":"datum.yr>=1996"}],"mark":{"type":"rect","color":"#E0E0E0"},"encoding":{}},
  {"mark":{"type":"bar","stroke":"#000","strokeWidth":0.5},"encoding":{"xOffset":{"field":"s","sort":["c","k","i"],"scale":{"paddingInner":0,"paddingOuter":0.1}},"y":{"field":"v","type":"quantitative","scale":{"domain":[0,5e8]},"axis":{"values":[0,1e8,2e8,3e8,4e8,5e8],"format":",d","title":null}},"color":{"field":"s","scale":{"domain":["c","k","i"],"range":["#22AFAF","#E0E000","#C0105A"]}}}},
  {"transform":[{"filter":"datum.yr==1996 && datum.s=='c'"}],"mark":{"type":"rule","color":"#000","strokeWidth":2},"encoding":{"x":{"field":"yr","type":"ordinal","bandPosition":0}}},
  {"transform":[{"filter":"datum.yr==2007 && datum.s=='c'"}],"mark":{"type":"rule","color":"#555","strokeWidth":2},"encoding":{"x":{"field":"yr","type":"ordinal","bandPosition":1}}}
 ]}
],
"config": {
 "view": {"stroke": null},
 "font": "DejaVu Sans",
 "axis": {"labelFont": "DejaVu Sans", "labelFontWeight": "bold", "labelFontSize": 8, "labelColor": "#000", "domainColor": "#000", "domainWidth": 2, "tickColor": "#000", "tickSize": 4, "tickWidth": 1, "grid": false, "labelPadding": 2},
 "axisX": {"tickSize": 3},
 "title": {"font": "DejaVu Sans", "fontSize": 10, "fontWeight": "bold", "offset": 7, "color": "#000"}
}
}
